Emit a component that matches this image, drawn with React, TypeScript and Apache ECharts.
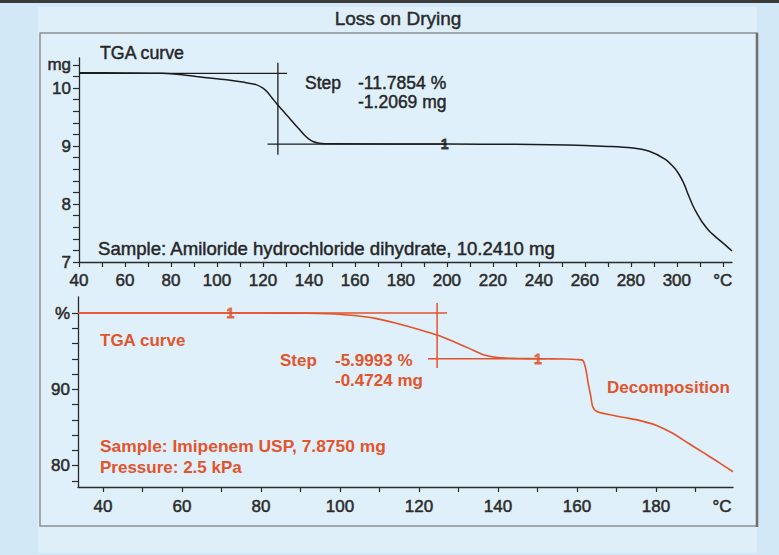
import React, { useEffect, useRef } from 'react';
import * as echarts from 'echarts';

// ---------- Top panel: Amiloride hydrochloride dihydrate (mg vs °C) ----------
const topTemp = [40, 60, 76, 85, 91, 98, 105, 112, 117, 120, 122, 124, 126, 128, 130, 132, 134, 136, 138, 140, 142, 144, 147, 150, 200, 230, 245, 260, 270, 280, 288, 295, 299, 301, 303, 305, 307, 309, 311, 314, 317, 320, 324];
const topMass = [10.265, 10.262, 10.255, 10.23, 10.2, 10.17, 10.14, 10.1, 10.06, 10.0, 9.93, 9.83, 9.73, 9.64, 9.55, 9.46, 9.37, 9.28, 9.19, 9.12, 9.075, 9.055, 9.042, 9.04, 9.035, 9.03, 9.025, 9.01, 8.995, 8.97, 8.91, 8.77, 8.62, 8.51, 8.36, 8.16, 7.97, 7.82, 7.69, 7.54, 7.43, 7.33, 7.19];
const topStepUpperX = [40, 130.5];
const topStepUpperY = [10.255, 10.255];
const topStepLowerX = [122, 200];
const topStepLowerY = [9.034, 9.034];
const topStepVertX = [126.5, 126.5];
const topStepVertY = [10.44, 8.85];
const topMarkerX = [199];
const topMarkerY = [9.035];
const topXTicks = [40, 50, 60, 70, 80, 90, 100, 110, 120, 130, 140, 150, 160, 170, 180, 190, 200, 210, 220, 230, 240, 250, 260, 270, 280, 290, 300, 310, 320];
const topXLabels = [40, 60, 80, 100, 120, 140, 160, 180, 200, 220, 240, 260, 280, 300, 320];
const topYTicks = [7, 7.2, 7.4, 7.6, 7.8, 8, 8.2, 8.4, 8.6, 8.8, 9, 9.2, 9.4, 9.6, 9.8, 10, 10.2, 10.4];
const topYLabels = [7, 8, 9, 10, 10.4];

// ---------- Bottom panel: Imipenem USP (% vs °C) ----------
const botTemp = [33.7, 60, 80, 92, 97, 103, 109, 114, 120, 125, 129, 133, 136.5, 140, 145, 150, 157, 160, 161.5, 162.3, 162.8, 163.5, 164, 165, 168, 172, 176, 180, 184, 188, 192, 196, 199.5];
const botPct = [100, 100, 100, 99.97, 99.9, 99.7, 99.3, 98.7, 97.85, 97.05, 96.2, 95.3, 94.5, 94.15, 94.05, 94.0, 93.97, 93.9, 93.8, 92.5, 90.9, 89.1, 87.7, 87.1, 86.7, 86.3, 85.9, 85.3, 84.3, 83.0, 81.7, 80.4, 79.2];
const botStepUpperX = [33.7, 127.1];
const botStepUpperY = [100, 100];
const botStepLowerX = [122.3, 152];
const botStepLowerY = [94.0, 94.0];
const botStepVertX = [124.6, 124.6];
const botStepVertY = [101.3, 92.8];
const botMarkerX = [72.3, 150.1];
const botMarkerY = [100, 94.0];
const botXTicks = [40, 50, 60, 70, 80, 90, 100, 110, 120, 130, 140, 150, 160, 170, 180, 190];
const botXLabels = [40, 60, 80, 100, 120, 140, 160, 180, 196.7];
const botYTicks = [78, 80, 82, 84, 86, 88, 90, 92, 94, 96, 98, 100];
const botYLabels = [80, 90, 100];

const FONT = '"Liberation Sans", Arial, Helvetica, sans-serif';
const BLACK = '#262626';
const RED = '#e2542c';
const RED_LINE = '#e4522a';

const zip = (xs: number[], ys: number[]) => xs.map((x, i) => [x, ys[i]]);
const near = (a: number, b: number) => Math.abs(a - b) < 1e-6;

export default function App() {
  const ref = useRef<HTMLDivElement>(null);

  useEffect(() => {
    document.body.style.margin = '0';
    if (!ref.current) return;
    const chart = echarts.init(ref.current, undefined, { renderer: 'svg' });

    const lineSeries = (name: string, xi: number, data: number[][], color: string, width: number, smooth: boolean) => ({
      name,
      type: 'line',
      xAxisIndex: xi,
      yAxisIndex: xi,
      data,
      showSymbol: false,
      symbol: 'none',
      smooth: smooth ? 0.25 : false,
      lineStyle: { color, width },
      silent: true,
      z: 3,
    });

    const markerSeries = (xi: number, data: number[][], color: string) => ({
      type: 'scatter',
      xAxisIndex: xi,
      yAxisIndex: xi,
      data,
      symbolSize: 1,
      itemStyle: { color: 'transparent' },
      label: {
        show: true,
        position: 'inside',
        formatter: '1',
        color,
        fontSize: 14,
        fontWeight: 'bold',
        fontFamily: FONT,
        textBorderColor: color,
        textBorderWidth: 0.8,
      },
      silent: true,
      z: 4,
    });

    const axisTextStyle = {
      color: '#2b2b2b',
      fontSize: 17,
      fontFamily: FONT,
      textBorderColor: '#2b2b2b',
      textBorderWidth: 0.5,
    };

    const txt = (text: string, x: number, y: number, color: string, size: number, bold: boolean, align = 'left') => ({
      type: 'text',
      x,
      y,
      silent: true,
      z: 10,
      style: {
        text,
        fill: color,
        fontSize: size,
        fontFamily: FONT,
        fontWeight: bold ? 'bold' : 'normal',
        textAlign: align,
        textVerticalAlign: 'middle',
        stroke: bold ? undefined : color,
        lineWidth: bold ? 0 : 0.45,
      },
    });

    const option: any = {
      animation: false,
      backgroundColor: '#d2e8f6',
      grid: [
        { left: 79, right: 47, top: 58, bottom: 293 },
        { left: 78, right: 46, top: 297, bottom: 68 },
      ],
      xAxis: [
        {
          type: 'value',
          gridIndex: 0,
          min: 40,
          max: 324,
          axisLine: { onZero: false, lineStyle: { color: '#2a2a2a', width: 1.3 } },
          axisTick: { show: true, customValues: topXTicks, length: 5, lineStyle: { color: '#2a2a2a', width: 1.2 } },
          axisLabel: {
            ...axisTextStyle,
            margin: 10,
            customValues: topXLabels,
            formatter: (v: number) => (near(v, 320) ? '°C' : String(v)),
          },
          splitLine: { show: false },
        },
        {
          type: 'value',
          gridIndex: 1,
          min: 33.7,
          max: 199.5,
          axisLine: { onZero: false, lineStyle: { color: '#2a2a2a', width: 1.3 } },
          axisTick: { show: true, customValues: botXTicks, length: 5, lineStyle: { color: '#2a2a2a', width: 1.2 } },
          axisLabel: {
            ...axisTextStyle,
            margin: 11,
            customValues: botXLabels,
            formatter: (v: number) => (near(v, 196.7) ? '°C' : String(v)),
          },
          splitLine: { show: false },
        },
      ],
      yAxis: [
        {
          type: 'value',
          gridIndex: 0,
          min: 7,
          max: 10.52,
          axisLine: { show: true, onZero: false, lineStyle: { color: '#2a2a2a', width: 1.3 } },
          axisTick: { show: true, customValues: topYTicks, length: 6, lineStyle: { color: '#2a2a2a', width: 1.2 } },
          axisLabel: {
            ...axisTextStyle,
            margin: 8,
            customValues: topYLabels,
            formatter: (v: number) => (near(v, 10.4) ? 'mg' : String(Math.round(v))),
          },
          splitLine: { show: false },
        },
        {
          type: 'value',
          gridIndex: 1,
          min: 77.2,
          max: 102.1,
          axisLine: { show: true, onZero: false, lineStyle: { color: '#2a2a2a', width: 1.3 } },
          axisTick: { show: true, customValues: botYTicks, length: 6, lineStyle: { color: '#2a2a2a', width: 1.2 } },
          axisLabel: {
            ...axisTextStyle,
            margin: 8,
            customValues: botYLabels,
            formatter: (v: number) => (near(v, 100) ? '%' : String(Math.round(v))),
          },
          splitLine: { show: false },
        },
      ],
      graphic: [
        { type: 'rect', z: -10, silent: true, shape: { x: 0, y: 0, width: 779, height: 3 }, style: { fill: '#3a3a3a' } },
        { type: 'rect', z: -10, silent: true, shape: { x: 38, y: 7, width: 719, height: 546 }, style: { fill: '#deeffa' } },
        { type: 'rect', z: -9, silent: true, shape: { x: 40, y: 33, width: 717, height: 493 }, style: { fill: '#dff0fa', stroke: '#8e8e8e', lineWidth: 1.5 } },
        { type: 'line', z: -8, silent: true, shape: { x1: 757, y1: 33, x2: 757, y2: 527 }, style: { stroke: '#6e6e6e', lineWidth: 2.5 } },
        txt('Loss on Drying', 398, 18, '#2a2a2a', 19, false, 'center'),
        txt('TGA curve', 100, 53, BLACK, 17.8, false),
        txt('Step', 305, 83, BLACK, 17.5, false),
        txt('-11.7854 %', 358, 83, BLACK, 17.5, false),
        txt('-1.2069 mg', 358, 102, BLACK, 17.5, false),
        txt('Sample: Amiloride hydrochloride dihydrate, 10.2410 mg', 98, 248, BLACK, 18.6, false),
        txt('TGA curve', 100, 340, RED, 17, true),
        txt('Step', 280, 360, RED, 17, true),
        txt('-5.9993 %', 335, 360, RED, 17, true),
        txt('-0.4724 mg', 335, 380, RED, 17, true),
        txt('Decomposition', 607, 387, RED, 17, true),
        txt('Sample: Imipenem USP, 7.8750 mg', 100, 446, RED, 17.4, true),
        txt('Pressure: 2.5 kPa', 100, 467, RED, 17, true),
      ],
      series: [
        lineSeries('topCurve', 0, zip(topTemp, topMass), '#1c1c1c', 1.5, true),
        lineSeries('topStepUpper', 0, zip(topStepUpperX, topStepUpperY), '#1c1c1c', 1.3, false),
        lineSeries('topStepLower', 0, zip(topStepLowerX, topStepLowerY), '#1c1c1c', 1.3, false),
        lineSeries('topStepVert', 0, zip(topStepVertX, topStepVertY), '#1c1c1c', 1.3, false),
        markerSeries(0, zip(topMarkerX, topMarkerY), '#1c1c1c'),
        lineSeries('botCurve', 1, zip(botTemp, botPct), RED_LINE, 1.6, true),
        lineSeries('botStepUpper', 1, zip(botStepUpperX, botStepUpperY), RED_LINE, 1.5, false),
        lineSeries('botStepLower', 1, zip(botStepLowerX, botStepLowerY), RED_LINE, 1.5, false),
        lineSeries('botStepVert', 1, zip(botStepVertX, botStepVertY), RED_LINE, 1.5, false),
        markerSeries(1, zip(botMarkerX, botMarkerY), RED_LINE),
      ],
    };

    chart.setOption(option);
    return () => {
      chart.dispose();
    };
  }, []);

  return (
    <div
      ref={ref}
      style={{ position: 'absolute', left: 0, top: 0, width: 779, height: 555 }}
    />
  );
}
